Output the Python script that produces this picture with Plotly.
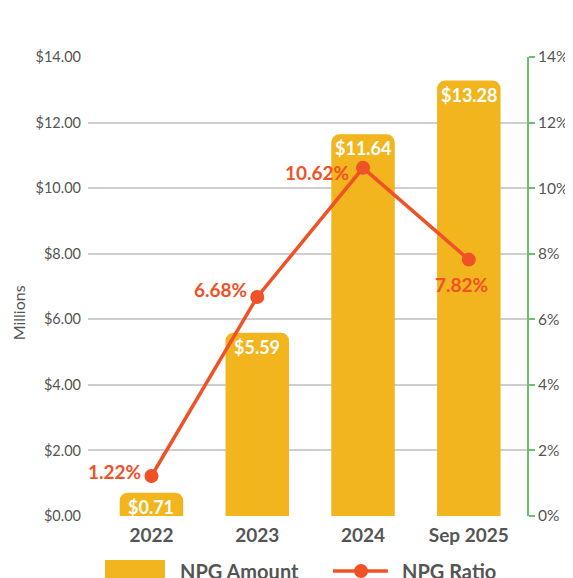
import plotly.graph_objects as go

categories = ["2022", "2023", "2024", "Sep 2025"]
npg_amount = [0.71, 5.59, 11.64, 13.28]
npg_ratio = [1.22, 6.68, 10.62, 7.82]
left_ticks = [0, 2, 4, 6, 8, 10, 12, 14]
right_ticks = [0, 2, 4, 6, 8, 10, 12, 14]
series_names = ["NPG Amount", "NPG Ratio"]

GOLD = "#F2B51E"
ORANGE = "#EF5226"
GREEN = "#6CC070"
GREY = "#555555"
FONT = "Lato"

fig = go.Figure()
fig.add_trace(go.Bar(
    x=categories, y=npg_amount, name=series_names[0],
    marker=dict(color=GOLD, line=dict(width=0)),
))
fig.add_trace(go.Scatter(
    x=categories, y=npg_ratio, name=series_names[1], yaxis="y2",
    mode="lines+markers",
    line=dict(color=ORANGE, width=3.5),
    marker=dict(color=ORANGE, size=14),
    cliponaxis=False,
))

annotations = []
# amount labels at the top inside each bar
for i, val in enumerate(npg_amount):
    annotations.append(dict(
        x=i, y=val, xref="x", yref="y", text=f"${val:.2f}", showarrow=False,
        xanchor="center", yanchor="middle", yshift=-14,
        font=dict(color="white", size=18, family=FONT, weight="bold")))

# ratio labels anchored at the data points (offsets in pixels)
label_offsets = [(-8, 5, "right"), (-8, 7, "right"), (-12, -5, "right"), (-7, -25, "center")]
for i, (val, (dx, dy, anchor)) in enumerate(zip(npg_ratio, label_offsets)):
    annotations.append(dict(
        x=i, y=val, xref="x", yref="y2", text=f"{val:.2f}%", showarrow=False,
        xanchor=anchor, yanchor="middle", xshift=dx, yshift=dy,
        font=dict(color=ORANGE, size=19, family=FONT, weight="bold")))

# manual legend (larger keys, as in the reference)
leg_y = -0.1198
shapes = [
    dict(type="rect", xref="paper", yref="paper", x0=0.0387, x1=0.1754, y0=-0.16, y1=-0.0959,
         fillcolor=GOLD, line=dict(width=0), layer="above"),
    dict(type="line", xref="paper", yref="paper", x0=0.558, x1=0.683, y0=leg_y, y1=leg_y,
         line=dict(color=ORANGE, width=3.5)),
    dict(type="circle", xref="paper", yref="paper", xsizemode="pixel", ysizemode="pixel",
         xanchor=0.622, yanchor=leg_y, x0=-7, x1=7, y0=-7, y1=7,
         fillcolor=ORANGE, line=dict(width=0)),
]
annotations += [
    dict(text="Millions", xref="paper", yref="paper", x=-0.159, y=0.442,
         xanchor="center", yanchor="middle",
         textangle=-90, showarrow=False, font=dict(size=16, family=FONT, color=GREY)),
    dict(text=series_names[0], xref="paper", yref="paper", x=0.205, y=leg_y, xanchor="left",
         yanchor="middle", showarrow=False,
         font=dict(size=20, family=FONT, color=GREY, weight="bold")),
    dict(text=series_names[1], xref="paper", yref="paper", x=0.7107, y=leg_y, xanchor="left",
         yanchor="middle", showarrow=False,
         font=dict(size=20, family=FONT, color=GREY, weight="bold")),
]

fig.update_layout(
    width=573, height=578,
    margin=dict(l=80, r=54, t=49, b=70),
    paper_bgcolor="white", plot_bgcolor="white",
    font=dict(family=FONT, color=GREY),
    bargap=0.4,
    barcornerradius=8,
    showlegend=False,
    xaxis=dict(type="category", range=[-0.6, 3.55], showline=False, ticks="",
               automargin=False, ticklabelstandoff=6,
               tickfont=dict(size=19, family=FONT, color=GREY, weight="bold"),
               showgrid=False, zeroline=False),
    yaxis=dict(range=[0, 14], tickvals=left_ticks, ticktext=[f"${v:.2f}" for v in left_ticks],
               showgrid=True, gridcolor="#CFCFCF", gridwidth=1.5, zeroline=False,
               showline=False, ticks="", ticklabelstandoff=6, automargin=False,
               tickfont=dict(size=14.5, family=FONT, color=GREY)),
    yaxis2=dict(range=[0, 14], overlaying="y", side="right", tickvals=right_ticks,
                ticktext=[f"{v}%" for v in right_ticks], showgrid=False, zeroline=False,
                showline=True, linecolor=GREEN, linewidth=2, ticks="outside",
                tickcolor=GREEN, ticklen=6, tickwidth=2, automargin=False,
                tickfont=dict(size=15.5, family=FONT, color=GREY)),
    shapes=shapes,
    annotations=annotations,
)

fig.write_html("out.html")
